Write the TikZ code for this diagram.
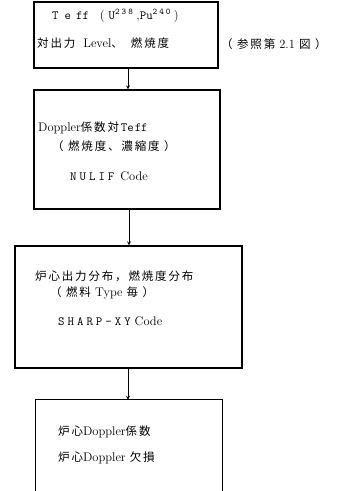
\documentclass[tikz,border=0pt]{standalone}
\usepackage{fontspec}
\newfontfamily\cjk[Scale=0.92,LetterSpace=16]{Noto Sans CJK JP}
\newcommand\g{\hspace{3pt}}

\begin{document}
\begin{tikzpicture}[x=1pt,y=-1pt,>=stealth,
  box/.style={draw,line width=1.3pt,inner sep=0pt},
  txt/.style={anchor=west,inner sep=0pt,font=\fontsize{12.5}{15}\selectfont}]
  \useasboundingbox[fill=white] (0,0) rectangle (348,491);
  % the four boxes of the flow
  \node[box,minimum width=184pt,minimum height=66pt] (b1) at (126,35) {};
  \node[box,minimum width=186pt,minimum height=119pt] (b2) at (127,149.5) {};
  \node[box,minimum width=227pt,minimum height=122pt] (b3) at (128.5,307) {};
  \node[draw=none,minimum width=186pt,minimum height=94pt,inner sep=0pt] (b4) at (129,447) {};
  \draw[line width=1.3pt] (b4.south west) -- (b4.north west) -- (b4.north east) -- (b4.south east);
  % texts
  \node[txt] (t1a) at (52,16) {\texttt{T\hspace{6pt}e\hspace{5pt}ff}\hspace{11pt}(\hspace{4pt}\texttt{U}\textsuperscript{\texttt{2\hspace{2pt}3\hspace{2pt}8}}\hspace{3pt},\texttt{Pu}\textsuperscript{\texttt{2\hspace{2pt}4\hspace{2pt}0}}\hspace{3pt})};
  \node[txt] (t1b) at (37,43) {{\cjk 対出力}\hspace{8pt}Level{\cjk 、}\hspace{8pt}{\cjk 燃焼度}};
  \node[txt] (note) at (221,44) {{\cjk （ 参照第} 2.1 {\cjk 図 ）}};
  \node[txt] (t2a) at (38,128) {Doppler{\cjk 係数対}\texttt{Te\hspace{1pt}ff}};
  \node[txt] (t2b) at (52,146) {{\cjk （ 燃焼度、濃縮度 ）}};
  \node[txt] (t2c) at (70,176) {\texttt{N\g U\g L\g I\g F}\hspace{6pt}Code};
  \node[txt] (t3a) at (35,276) {{\cjk 炉心出力分布，燃焼度分布}};
  \node[txt] (t3b) at (50,293) {{\cjk （ 燃料} Type {\cjk 毎 ）}};
  \node[txt] (t3c) at (58,321) {\texttt{S\g H\g A\g R\g P\g -\g X\g Y}\hspace{4pt}Code};
  \node[txt] (t4a) at (58,432) {{\cjk 炉心}Doppler{\cjk 係数}};
  \node[txt] (t4b) at (58,458) {{\cjk 炉心}Doppler {\cjk 欠損}};
  % arrows
  \draw[->,thick] ([xshift=2pt]b1.south) -- ([xshift=2pt]b1.south |- b2.north);
  \draw[->,thick] ([xshift=2pt]b2.south) -- ([xshift=2pt]b2.south |- b3.north);
  \draw[->,thick] ([xshift=-0.5pt]b3.south) -- ([xshift=-0.5pt]b3.south |- b4.north);
\end{tikzpicture}
\end{document}
